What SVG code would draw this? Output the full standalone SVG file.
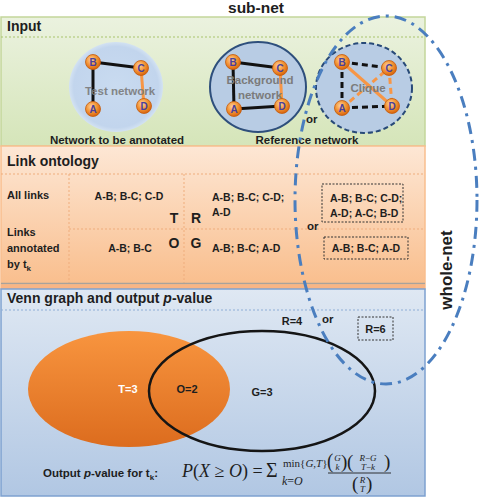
<svg xmlns="http://www.w3.org/2000/svg" width="481" height="497" viewBox="0 0 481 497">
<defs>
<linearGradient id="gIn" x1="0" y1="0" x2="0" y2="1"><stop offset="0" stop-color="#ebf2df"/><stop offset="1" stop-color="#d5e5b9"/></linearGradient>
<linearGradient id="gLink" x1="0" y1="0" x2="0" y2="1"><stop offset="0" stop-color="#fde7d5"/><stop offset="1" stop-color="#f9bd8b"/></linearGradient>
<linearGradient id="gVenn" x1="0" y1="0" x2="0" y2="1"><stop offset="0" stop-color="#dfe8f3"/><stop offset="1" stop-color="#b1c7e3"/></linearGradient>
<linearGradient id="gOr" x1="0" y1="0" x2="0" y2="1"><stop offset="0" stop-color="#f8953f"/><stop offset="1" stop-color="#dc6c1e"/></linearGradient>
<radialGradient id="gNode" cx="0.4" cy="0.35" r="0.65"><stop offset="0" stop-color="#fdd3a0"/><stop offset="0.5" stop-color="#f59a3c"/><stop offset="1" stop-color="#d9640c"/></radialGradient>
<radialGradient id="gTest" cx="0.5" cy="0.5" r="0.5"><stop offset="0" stop-color="#c9dbf0"/><stop offset="0.9" stop-color="#c2d5ed"/><stop offset="1" stop-color="#d3e2f2"/></radialGradient>
</defs>
<style>
.t{font-family:"Liberation Sans",Arial,sans-serif;font-weight:bold;fill:#1e1e1e}
.h{font-size:14px}
.s{font-size:11px}
.c{font-size:10.5px}
.g{font-family:"Liberation Sans",Arial,sans-serif;font-weight:bold;font-size:11.5px;fill:#7b7b7b;text-anchor:middle}
.nd circle{fill:url(#gNode);stroke:#c35a0c;stroke-width:0.8}
.nd text{font-family:"Liberation Sans",Arial,sans-serif;font-weight:bold;font-size:10px;fill:#4a3f9c;text-anchor:middle}
.bk{stroke:#111;stroke-width:3;fill:none}
.or{stroke:#f79646;stroke-width:3;fill:none}
.dsh{stroke-dasharray:6 4}
.m{font-family:"Liberation Serif","Times New Roman",serif;fill:#1e1e1e}
.dot{fill:none;stroke-width:1;stroke-dasharray:2 2}
.box{fill:none;stroke:#333;stroke-width:1;stroke-dasharray:2 1.5}
</style>

<text class="t" x="256" y="13" font-size="15.5" text-anchor="middle">sub-net</text>

<g id="panel-input">
<rect x="1" y="17" width="424" height="129" fill="url(#gIn)" stroke="#c3d69b" stroke-width="1.5"/>
<line x1="1" y1="37" x2="425" y2="37" class="dot" stroke="#a9c46c"/>
<text class="t h" x="7" y="31">Input</text>
</g>

<g id="panel-link">
<rect x="1" y="146" width="424" height="143" fill="url(#gLink)" stroke="#f9be8e" stroke-width="1.5"/>
<line x1="1" y1="174" x2="425" y2="174" class="dot" stroke="#efad7c"/>
<line x1="69" y1="174" x2="69" y2="283" class="dot" stroke="#efad7c"/>
<line x1="184" y1="174" x2="184" y2="283" class="dot" stroke="#efad7c"/>
<line x1="69" y1="229" x2="425" y2="229" class="dot" stroke="#efad7c"/>
<line x1="1" y1="283.5" x2="425" y2="283.5" stroke="#a8a29c" stroke-width="1.5"/>
<rect x="1" y="284.5" width="424" height="4.5" fill="#f8b585"/>
<text class="t h" x="7" y="166">Link ontology</text>
</g>

<g id="panel-venn">
<rect x="1" y="289" width="424" height="207" fill="url(#gVenn)" stroke="#7ea1d0" stroke-width="1.5"/>
<line x1="1" y1="310" x2="425" y2="310" class="dot" stroke="#8eadd6"/>
<text class="t h" x="7" y="303">Venn graph and output <tspan font-style="italic">p</tspan>-value</text>
</g>

<g id="test-network">
<ellipse cx="116" cy="87" rx="47" ry="45" fill="url(#gTest)"/>
</g>
<g id="background-network">
<ellipse cx="258" cy="87" rx="48" ry="45" fill="#b8cce4" stroke="#2e4f7c" stroke-width="2"/>
</g>
<g id="clique-network">
<ellipse cx="364" cy="88" rx="48" ry="45" fill="#b8cce4" stroke="#284a78" stroke-width="2" stroke-dasharray="5 3"/>
</g>

<g id="connectors">
<line x1="93" y1="62" x2="141" y2="68" class="bk"/>
<line x1="93" y1="62" x2="93" y2="109" class="bk"/>
<line x1="141" y1="68" x2="144" y2="106" class="or"/>
<line x1="233" y1="62" x2="280" y2="68" class="bk"/>
<line x1="233" y1="62" x2="234" y2="109" class="bk"/>
<line x1="234" y1="109" x2="282" y2="106" class="bk"/>
<line x1="280" y1="68" x2="282" y2="106" class="or"/>
<line x1="342" y1="62" x2="392" y2="106" class="or"/>
<line x1="342" y1="108" x2="389" y2="68" class="or dsh"/>
<line x1="389" y1="68" x2="392" y2="106" class="or dsh"/>
<line x1="342" y1="62" x2="389" y2="68" class="bk dsh"/>
<line x1="342" y1="62" x2="342" y2="108" class="bk dsh"/>
<line x1="342" y1="108" x2="392" y2="106" class="bk dsh"/>
</g>

<text class="g" x="120" y="95" opacity="0.9">Test network</text>
<text class="g" x="260" y="84">Background</text>
<text class="g" x="260" y="99">network</text>
<text class="g" x="368" y="92">Clique</text>

<g id="test-B" class="nd"><circle cx="93" cy="62" r="7.5"/><text x="93" y="65.5">B</text></g>
<g id="test-C" class="nd"><circle cx="141" cy="68" r="7.5"/><text x="141" y="71.5">C</text></g>
<g id="test-A" class="nd"><circle cx="93" cy="109" r="7.5"/><text x="93" y="112.5">A</text></g>
<g id="test-D" class="nd"><circle cx="144" cy="106" r="7.5"/><text x="144" y="109.5">D</text></g>
<g id="bg-B" class="nd"><circle cx="233" cy="62" r="7.5"/><text x="233" y="65.5">B</text></g>
<g id="bg-C" class="nd"><circle cx="280" cy="68" r="7.5"/><text x="280" y="71.5">C</text></g>
<g id="bg-A" class="nd"><circle cx="234" cy="109" r="7.5"/><text x="234" y="112.5">A</text></g>
<g id="bg-D" class="nd"><circle cx="282" cy="106" r="7.5"/><text x="282" y="109.5">D</text></g>
<g id="cl-B" class="nd"><circle cx="342" cy="62" r="7.5"/><text x="342" y="65.5">B</text></g>
<g id="cl-C" class="nd"><circle cx="389" cy="68" r="7.5"/><text x="389" y="71.5">C</text></g>
<g id="cl-A" class="nd"><circle cx="342" cy="108" r="7.5"/><text x="342" y="111.5">A</text></g>
<g id="cl-D" class="nd"><circle cx="392" cy="106" r="7.5"/><text x="392" y="109.5">D</text></g>

<text class="t" x="306" y="123" font-size="11.5">or</text>
<text class="t" x="117" y="144" font-size="11.5" text-anchor="middle">Network to be annotated</text>
<text class="t" x="307" y="144" font-size="11.5" text-anchor="middle">Reference network</text>

<g id="link-table">
<text class="t s" x="7" y="199">All links</text>
<text class="t s" x="7" y="236">Links</text>
<text class="t s" x="7" y="252">annotated</text>
<text class="t s" x="7" y="268">by t<tspan font-size="8" dy="3">k</tspan></text>
<text class="t c" x="129" y="200" text-anchor="middle">A-B; B-C; C-D</text>
<text class="t c" x="130" y="252" text-anchor="middle">A-B; B-C</text>
<text class="t" x="174" y="223" font-size="14" text-anchor="middle">T</text>
<text class="t" x="196" y="223" font-size="14" text-anchor="middle">R</text>
<text class="t" x="174" y="248" font-size="14" text-anchor="middle">O</text>
<text class="t" x="196" y="248" font-size="14" text-anchor="middle">G</text>
<text class="t c" x="212" y="201">A-B; B-C; C-D;</text>
<text class="t c" x="212" y="216">A-D</text>
<text class="t c" x="212" y="252">A-B; B-C; A-D</text>
<text class="t" x="307" y="230" font-size="11.5">or</text>
<rect class="box" x="322" y="184" width="81" height="38"/>
<text class="t c" x="330" y="202">A-B; B-C; C-D;</text>
<text class="t c" x="330" y="217">A-D; A-C; B-D</text>
<rect class="box" x="324" y="237" width="84" height="22"/>
<text class="t c" x="366" y="252" text-anchor="middle">A-B; B-C; A-D</text>
</g>

<g id="venn">
<ellipse cx="129" cy="389" rx="101" ry="58" fill="url(#gOr)"/>
<ellipse cx="262" cy="391" rx="113" ry="60" fill="none" stroke="#151515" stroke-width="2.5"/>
<text class="t s" x="128" y="393" text-anchor="middle" fill="#ffffff" style="fill:#fff">T=3</text>
<text class="t s" x="187" y="393" text-anchor="middle">O=2</text>
<text class="t s" x="262" y="396" text-anchor="middle">G=3</text>
<text class="t s" x="292" y="325" text-anchor="middle">R=4</text>
<text class="t" x="322" y="323" font-size="11.5">or</text>
<rect class="box" x="358" y="317" width="35" height="23"/>
<text class="t s" x="375.5" y="332.5" text-anchor="middle">R=6</text>
</g>

<g id="formula">
<text class="t" x="43" y="477" font-size="11.5">Output <tspan font-style="italic">p</tspan>-value for t<tspan font-size="8" dy="3">k</tspan><tspan dy="-3">:</tspan></text>
<text class="m" x="182" y="477" font-size="18"><tspan font-style="italic">P</tspan>(<tspan font-style="italic">X</tspan> ≥ <tspan font-style="italic">O</tspan>) =</text>
<text class="m" x="266" y="477" font-size="20">Σ</text>
<text class="m" x="282" y="485" font-size="12"><tspan font-style="italic">k</tspan>=<tspan font-style="italic">O</tspan></text>
<text class="m" x="283" y="467" font-size="11">min{<tspan font-style="italic">G</tspan>,<tspan font-style="italic">T</tspan>}</text>
<text class="m" x="327" y="468" font-size="19" transform="translate(327 468) scale(1 1.05) translate(-327 -468)">(</text>
<text class="m" x="341" y="468" font-size="19">)</text>
<text class="m" x="337.5" y="461" font-size="9" font-style="italic" text-anchor="middle">G</text>
<text class="m" x="337.5" y="470" font-size="9" font-style="italic" text-anchor="middle">k</text>
<text class="m" x="347" y="468" font-size="19">(</text>
<text class="m" x="384" y="468" font-size="19">)</text>
<text class="m" x="368" y="461" font-size="9" text-anchor="middle"><tspan font-style="italic">R</tspan>−<tspan font-style="italic">G</tspan></text>
<text class="m" x="368" y="470" font-size="9" text-anchor="middle"><tspan font-style="italic">T</tspan>−<tspan font-style="italic">k</tspan></text>
<line x1="328" y1="473" x2="391" y2="473" stroke="#1e1e1e" stroke-width="0.9"/>
<text class="m" x="352" y="490" font-size="19">(</text>
<text class="m" x="366" y="490" font-size="19">)</text>
<text class="m" x="362.5" y="483" font-size="9" font-style="italic" text-anchor="middle">R</text>
<text class="m" x="362.5" y="492" font-size="9" font-style="italic" text-anchor="middle">T</text>
</g>

<g id="whole-net">
<ellipse cx="386" cy="200" rx="91" ry="184" fill="none" stroke="#4a7ebf" stroke-width="3" stroke-dasharray="12 6 3 6"/>
<text class="t" x="0" y="0" font-size="17" text-anchor="middle" transform="translate(452 270) rotate(-90)">whole-net</text>
</g>
</svg>
